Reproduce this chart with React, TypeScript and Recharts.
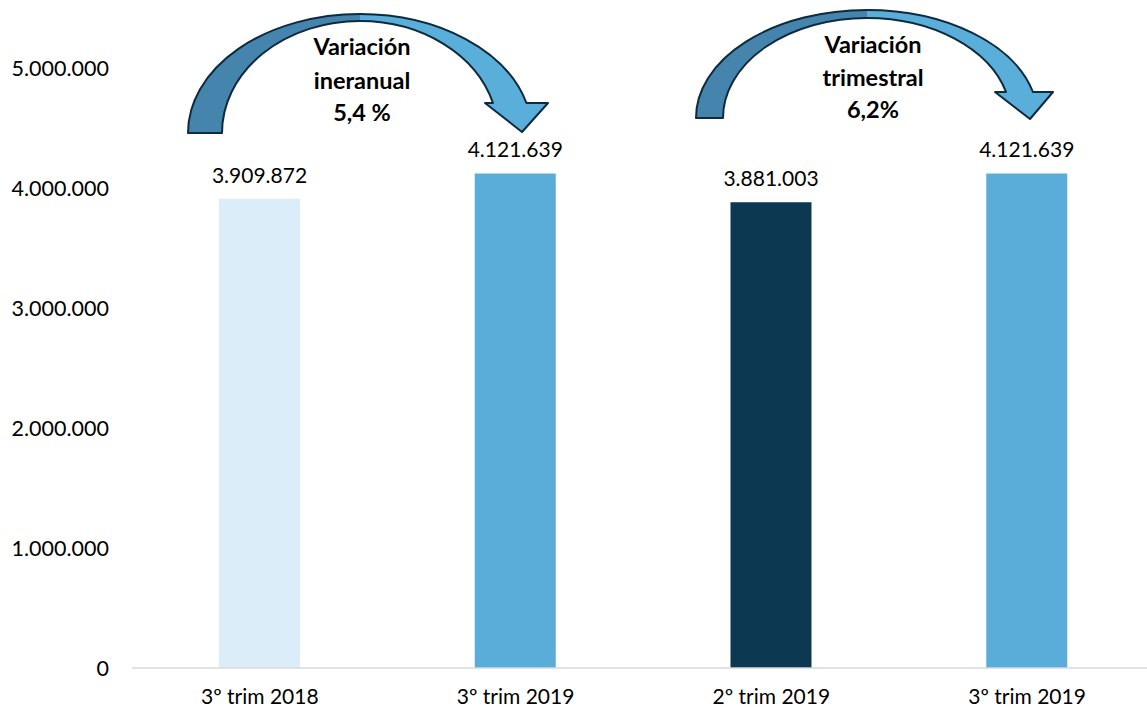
import React from "react";
import { BarChart, Bar, XAxis, YAxis, Cell, LabelList, Customized } from "recharts";

const categories = ["3º trim 2018", "3º trim 2019", "2º trim 2019", "3º trim 2019 "];
const values = [3909872, 4121639, 3881003, 4121639];
const barColors = ["#DAEDF9", "#5AADD9", "#0C3851", "#5AADD9"];
const yTicks = [0, 1000000, 2000000, 3000000, 4000000, 5000000];
const arrowTexts = [
  ["Variación", "ineranual", "5,4 %"],
  ["Variación", "trimestral", "6,2%"],
];

const data = categories.map((c, i) => ({ name: c, value: values[i] }));

const fmt = (v: number) => String(v).replace(/\B(?=(\d{3})+(?!\d))/g, ".");

const FONT = "Lato, 'Open Sans', sans-serif";

type ArrowGeo = {
  cx: number; by: number; oRx: number; oRy: number; iRx: number; iRy: number;
  headY: number; tipX: number; tipY: number; wingL: number; wingR: number; textX: number; textY: number[];
};

const arrowGeos: ArrowGeo[] = [
  { cx: 360, by: 133, oRx: 172, oRy: 119, iRx: 138, iRy: 112, headY: 103, tipX: 522, tipY: 132, wingL: 485, wingR: 548, textX: 362, textY: [55, 89, 121] },
  { cx: 867, by: 118, oRx: 171, oRy: 108, iRx: 144, iRy: 100, headY: 92, tipX: 1030, tipY: 119, wingL: 995, wingR: 1053, textX: 873, textY: [53, 86, 118] },
];

const CurvedArrow = ({ g, texts }: { g: ArrowGeo; texts: string[] }) => {
  const dy = g.by - g.headY;
  const oX = g.cx + g.oRx * Math.sqrt(1 - (dy / g.oRy) ** 2);
  const iX = g.cx + g.iRx * Math.sqrt(1 - (dy / g.iRy) ** 2);
  const leftPath = `M ${g.cx - g.oRx} ${g.by} A ${g.oRx} ${g.oRy} 0 0 1 ${g.cx} ${g.by - g.oRy} L ${g.cx} ${g.by - g.iRy} A ${g.iRx} ${g.iRy} 0 0 0 ${g.cx - g.iRx} ${g.by} Z`;
  const rightPath = `M ${g.cx} ${g.by - g.oRy} A ${g.oRx} ${g.oRy} 0 0 1 ${oX} ${g.headY} L ${g.wingR} ${g.headY} L ${g.tipX} ${g.tipY} L ${g.wingL} ${g.headY} L ${iX} ${g.headY} A ${g.iRx} ${g.iRy} 0 0 0 ${g.cx} ${g.by - g.iRy} Z`;
  const outline = `M ${g.cx - g.oRx} ${g.by} A ${g.oRx} ${g.oRy} 0 0 1 ${g.cx} ${g.by - g.oRy} A ${g.oRx} ${g.oRy} 0 0 1 ${oX} ${g.headY} L ${g.wingR} ${g.headY} L ${g.tipX} ${g.tipY} L ${g.wingL} ${g.headY} L ${iX} ${g.headY} A ${g.iRx} ${g.iRy} 0 0 0 ${g.cx} ${g.by - g.iRy} A ${g.iRx} ${g.iRy} 0 0 0 ${g.cx - g.iRx} ${g.by} Z`;
  return (
    <g>
      <path d={leftPath} fill="#4585AD" stroke="none" />
      <path d={rightPath} fill="#5AAEDA" stroke="none" />
      <path d={outline} fill="none" stroke="#0E2A3D" strokeWidth={2} strokeLinejoin="round" />
      {texts.map((t, i) => (
        <text key={i} x={g.textX} y={g.textY[i]} textAnchor="middle" fontFamily={FONT} fontWeight={700} fontSize={23.5} fill="#000">
          {t}
        </text>
      ))}
    </g>
  );
};

const Arrows = () => (
  <g>
    {arrowGeos.map((g, i) => (
      <CurvedArrow key={i} g={g} texts={arrowTexts[i]} />
    ))}
  </g>
);

export default function App() {
  return (
    <div style={{ position: "absolute", left: 0, top: 0, width: 1147, height: 709, background: "#fff", overflow: "hidden" }}>
      <BarChart width={1147} height={709} data={data} margin={{ top: 68, right: -8, left: 0, bottom: 0 }} barCategoryGap={0} style={{ overflow: "visible" }}>
        <XAxis
          dataKey="name"
          height={41}
          tickLine={false}
          axisLine={{ stroke: "#D9D9D9", strokeWidth: 1.5 }}
          tick={{ fontFamily: FONT, fontSize: 21, fill: "#000" }}
          tickMargin={15}
          interval={0}
        />
        <YAxis
          width={132}
          domain={[0, 5000000]}
          ticks={yTicks}
          tickFormatter={fmt}
          axisLine={false}
          tickLine={false}
          tickMargin={17}
          tick={{ fontFamily: FONT, fontSize: 21.5, fill: "#000" }}
        />
        <Bar dataKey="value" barSize={81} isAnimationActive={false}>
          {data.map((d, i) => (
            <Cell key={i} fill={barColors[i]} />
          ))}
          <LabelList dataKey="value" position="top" offset={16} formatter={(v: number) => fmt(v)} style={{ fontFamily: FONT, fontSize: 21, fill: "#000" }} />
        </Bar>
        <Customized component={Arrows} />
      </BarChart>
    </div>
  );
}
